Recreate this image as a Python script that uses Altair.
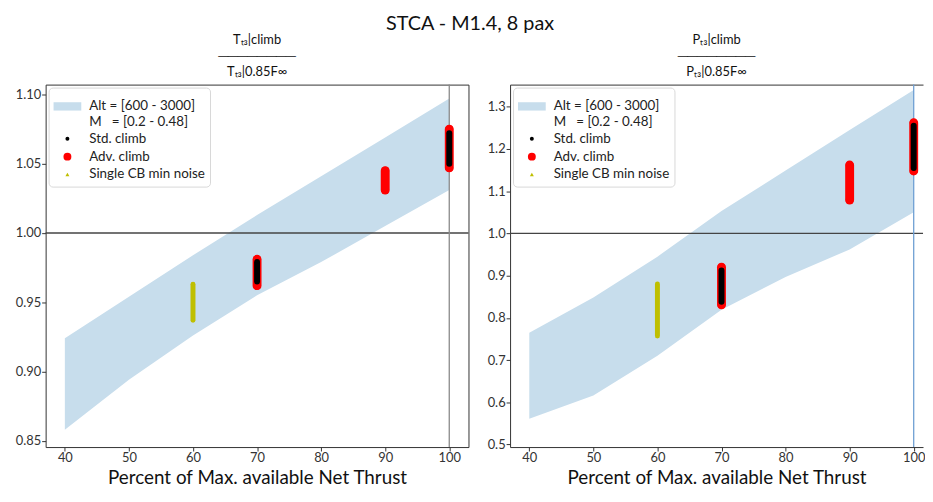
import altair as alt
import pandas as pd

FONT = "Lato"

# ---- data ----
x_pct = [40, 50, 60, 70, 80, 90, 100]

# band: Alt = [600 - 3000], M = [0.2 - 0.48]
tt3_band_lower = [0.858, 0.894, 0.926, 0.955, 0.979, 1.005, 1.031]
tt3_band_upper = [0.924, 0.954, 0.984, 1.013, 1.041, 1.069, 1.097]
pt3_band_lower = [0.561, 0.616, 0.710, 0.819, 0.897, 0.962, 1.050]
pt3_band_upper = [0.765, 0.848, 0.945, 1.053, 1.149, 1.245, 1.340]

band_label = "Alt = [600 - 3000]|M\u00a0\u00a0\u00a0= [0.2 - 0.48]"
series_names = [band_label, "Std. climb", "Adv. climb", "Single CB min noise"]
series_colors = ["#c7ddec", "#000000", "#ff0000", "#bfbf00"]
series_shapes = ["M-1,-0.3L1,-0.3L1,0.3L-1,0.3Z", "circle", "circle", "triangle-up"]
series_sizes = [784, 16, 64, 16]

marker_x = [70, 100, 70, 90, 100, 60]
marker_series = ["Std. climb", "Std. climb", "Adv. climb", "Adv. climb", "Adv. climb",
                 "Single CB min noise"]
tt3_marker_lo = [0.965, 1.050, 0.962, 1.031, 1.047, 0.937]
tt3_marker_hi = [0.979, 1.072, 0.981, 1.045, 1.075, 0.963]
pt3_marker_lo = [0.838, 1.155, 0.831, 1.079, 1.148, 0.757]
pt3_marker_hi = [0.912, 1.255, 0.920, 1.162, 1.262, 0.880]

ref_value = [1.0]
max_thrust = [100]

bar_chars = "\u2500" * 8
tt3_title = ["T\u209c\u2083|climb", bar_chars, "T\u209c\u2083|0.85F\u221e"]
pt3_title = ["P\u209c\u2083|climb", bar_chars, "P\u209c\u2083|0.85F\u221e"]

tt3_yticks = [0.85, 0.90, 0.95, 1.00, 1.05, 1.10]
pt3_yticks = [0.5, 0.6, 0.7, 0.8, 0.9, 1.0, 1.1, 1.2, 1.3]
x_ticks = [40, 50, 60, 70, 80, 90, 100]

PLOT_H = 366
FRAME = "#333333"


def frame_axis(orient):
    return alt.Axis(orient=orient, labels=False, ticks=False, title=None, grid=False,
                    domain=True, domainColor=FRAME)


def panel(title, band_lo, band_hi, m_lo, m_hi, ydomain, yticks, yfmt,
          vline_color, width, xdomain, right_frame):
    band_df = pd.DataFrame({"x": x_pct, "lo": band_lo, "hi": band_hi,
                            "series": [band_label] * len(x_pct)})
    mk_df = pd.DataFrame({"x": marker_x, "lo": m_lo, "hi": m_hi, "series": marker_series})
    ends_df = mk_df.melt(id_vars=["x", "series"], value_vars=["lo", "hi"], value_name="y")

    xscale = alt.Scale(domain=xdomain, nice=False, zero=False)
    yscale = alt.Scale(domain=ydomain, nice=False, zero=False)
    legend = alt.Legend(title=None, orient="top-left", labelExpr="split(datum.label, '|')")
    color = alt.Color("series:N", scale=alt.Scale(domain=series_names, range=series_colors),
                      legend=legend)
    shape = alt.Shape("series:N", scale=alt.Scale(domain=series_names, range=series_shapes),
                      legend=legend)
    size = alt.Size("series:N",
                    scale=alt.Scale(type="ordinal", domain=series_names, range=series_sizes),
                    legend=legend)

    band = alt.Chart(band_df).mark_area(clip=True).encode(
        x=alt.X("x:Q", scale=xscale,
                axis=alt.Axis(values=x_ticks, title="Percent of Max. available Net Thrust")),
        y=alt.Y("lo:Q", scale=yscale, axis=alt.Axis(values=yticks, format=yfmt, title=None)),
        y2="hi:Q",
        color=color,
    )
    hline = alt.Chart(pd.DataFrame({"y": ref_value})).mark_rule(
        color="#444444", strokeWidth=1.3).encode(
        y=alt.Y("y:Q", axis=frame_axis("right") if right_frame else None))
    vline = alt.Chart(pd.DataFrame({"x": max_thrust})).mark_rule(
        color=vline_color, strokeWidth=1.3).encode(
        x=alt.X("x:Q", axis=frame_axis("top")))
    ends = alt.Chart(ends_df).mark_point(filled=True, opacity=1, clip=True).encode(
        x=alt.X("x:Q", axis=None), y=alt.Y("y:Q", axis=None),
        color=color, shape=shape, size=size)

    def bar(name, col, w):
        return alt.Chart(mk_df).transform_filter(alt.datum.series == name).mark_rule(
            strokeWidth=w, strokeCap="round", color=col, clip=True
        ).encode(x=alt.X("x:Q", axis=None), y=alt.Y("lo:Q", axis=None), y2="hi:Q")

    layers = [band, hline, vline, ends,
              bar("Adv. climb", "#ff0000", 9),
              bar("Std. climb", "#000000", 6),
              bar("Single CB min noise", "#bfbf00", 5)]
    return alt.layer(*layers).resolve_axis(x="independent", y="independent").properties(
        width=width, height=PLOT_H,
        title=alt.TitleParams(title, fontSize=13, fontWeight="normal", lineHeight=16,
                              offset=5, color="#111111"),
    )


RIGHT_W = 417
left = panel(tt3_title, tt3_band_lower, tt3_band_upper, tt3_marker_lo, tt3_marker_hi,
             [0.8455, 1.1071], tt3_yticks, ".2f", "#8a8a8a", 427, [37, 103], True)
right = panel(pt3_title, pt3_band_lower, pt3_band_upper, pt3_marker_lo, pt3_marker_hi,
              [0.494, 1.3525], pt3_yticks, ".1f", "#6f9fd3", RIGHT_W,
              [37, 37 + RIGHT_W * 66 / 427], False)

chart = alt.hconcat(left, right, spacing=17).resolve_scale(
    x="independent", y="independent", color="independent", shape="independent",
    size="independent"
).resolve_legend(color="independent", shape="independent", size="independent").properties(
    title=alt.TitleParams("STCA - M1.4, 8 pax", fontSize=20, fontWeight="normal",
                          anchor="middle", color="#111111", offset=1),
    padding={"left": 7, "top": 3, "right": 0, "bottom": 0},
).configure_view(stroke=None).configure_axis(
    labelFont=FONT, titleFont=FONT, labelFontSize=13, titleFontSize=19,
    titleFontWeight="normal", labelColor="#333333", titleColor="#111111",
    tickColor=FRAME, domainColor=FRAME, tickSize=4, grid=False, labelPadding=1,
    titlePadding=4,
).configure_legend(
    labelFont=FONT, labelFontSize=13.5, labelColor="#222222",
    fillColor="rgba(255,255,255,0.8)", strokeColor="#d8d8d8", cornerRadius=4, padding=5,
    rowPadding=3, offset=3, symbolStrokeWidth=0, labelOffset=8,
).configure_title(font=FONT)

chart.save("out.html", embed_options={"renderer": "svg", "actions": False})
